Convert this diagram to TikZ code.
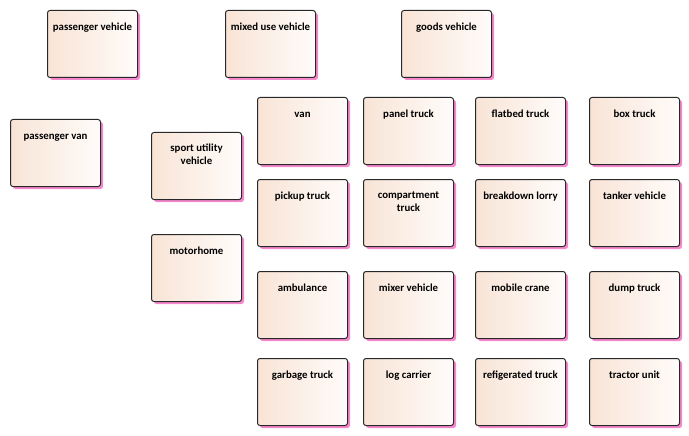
\documentclass[tikz,border=0pt]{standalone}
\usepackage{fontspec}
\setmainfont{Carlito}
\usetikzlibrary{shadows}
\definecolor{boxleft}{RGB}{248,228,214}
\definecolor{boxright}{RGB}{255,252,250}
\definecolor{boxline}{RGB}{40,40,40}
\definecolor{shadowpink}{RGB}{245,135,205}
\tikzset{
  elembox/.style={draw=boxline, line width=1pt, rounded corners=2.5pt,
    left color=boxleft, right color=boxright,
    minimum width=90pt, minimum height=67pt, anchor=north west, inner sep=0pt,
    drop shadow={shadow xshift=2.5pt, shadow yshift=-2.5pt, fill=shadowpink, opacity=1}},
  elemtext/.style={font=\fontsize{10.8}{13}\selectfont\bfseries, align=center, anchor=base, inner sep=0pt, text=black}
}
\newcommand\elem[5][20.5]{%
  \node[elembox] (#2) at (#3,#4) {};
  \node[elemtext] (#2-t) at ([yshift=-#1pt]#2.north) {#5};
}
\begin{document}
\begin{tikzpicture}[x=1pt,y=-1pt]
\useasboundingbox (0,0) rectangle (689,436);
\elem{pv}{47}{10}{passenger vehicle}
\elem{muv}{225}{10}{mixed use vehicle}
\elem{gv}{401}{10}{goods vehicle}
\elem{pvan}{10}{119}{passenger van}
\elem[32.5]{suv}{151}{132}{sport utility\\vehicle}
\elem{mh}{151}{234}{motorhome}
% grid
\elem{van}{257}{97}{van}
\elem{panel}{363}{97}{panel truck}
\elem{flat}{475}{97}{flatbed truck}
\elem{box}{589}{97}{box truck}
\elem{pickup}{257}{179}{pickup truck}
\elem[32.5]{comp}{363}{179}{compartment\\truck}
\elem{break}{475}{179}{breakdown lorry}
\elem{tank}{589}{179}{tanker vehicle}
\elem{amb}{257}{271}{ambulance}
\elem{mix}{363}{271}{mixer vehicle}
\elem{crane}{475}{271}{mobile crane}
\elem{dump}{589}{271}{dump truck}
\elem{garb}{257}{358}{garbage truck}
\elem{log}{363}{358}{log carrier}
\elem{refr}{475}{358}{refigerated truck}
\elem{tract}{589}{358}{tractor unit}
\end{tikzpicture}
\end{document}
